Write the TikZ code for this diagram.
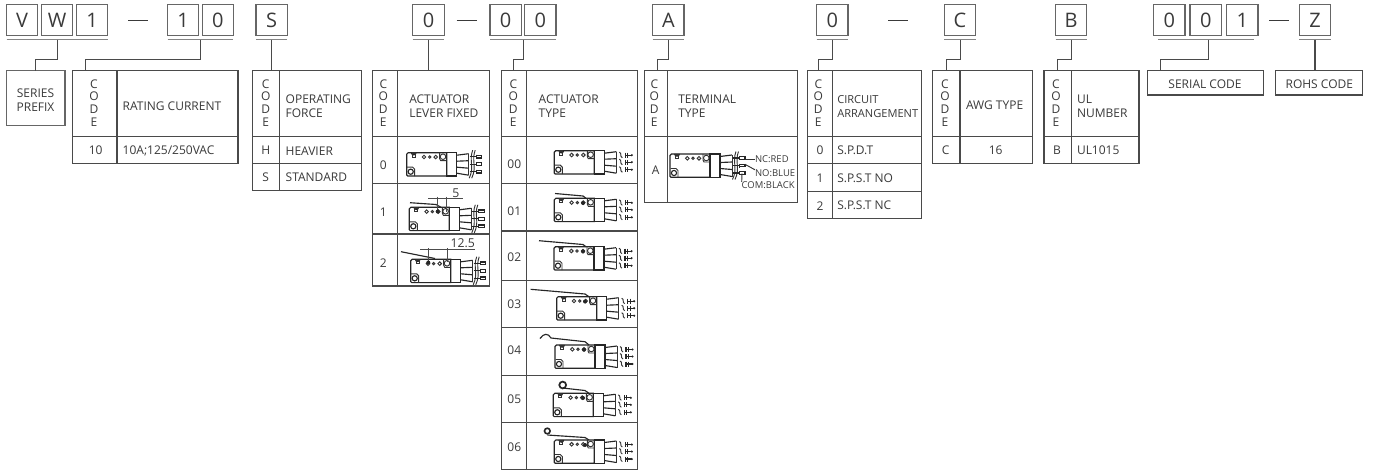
\documentclass[tikz,border=0pt]{standalone}
\usepackage{fontspec}
\setmainfont{Open Sans}
\definecolor{ink}{HTML}{3A3A3A}
\definecolor{rule}{HTML}{4A4A4A}
\definecolor{boxl}{HTML}{666666}
\newcounter{lb}
\tikzset{
  x=0.75pt,y=-0.75pt,
  lbl/.style={inner sep=0,outer sep=0,text=ink,font=\fontsize{9}{10.5}\selectfont,align=left},
  clbl/.style={lbl,align=center},
  stack/.style={inner sep=0,outer sep=0,text=ink,font=\fontsize{9}{9.55}\selectfont,align=center},
  letterbox/.style={draw=boxl,line width=1pt,inner sep=0,outer sep=0,text=ink,font=\fontsize{15}{17}\selectfont},
  bar/.style={draw=boxl!80,line width=1.1pt},
  conn/.style={draw=rule,line width=0.85pt},
  tablebox/.style={draw=rule,line width=0.85pt,inner sep=0,outer sep=0,anchor=north west},
  grid/.style={draw=rule,line width=0.85pt},
  swt/.style={draw=black!85,line width=0.85pt},
  sw/.style={draw=black!80,line width=0.7pt},
  dim/.style={draw=black!70,line width=0.45pt},
  smalllbl/.style={lbl,anchor=west,font=\fontsize{7.1}{9}\selectfont},
}
% letter box: name, x1, x2, character
\newcommand\lbox[4]{\node[letterbox,minimum width={(#3-#2)*0.75pt},minimum height={31*0.75pt}] (#1) at ({(#2+#3)/2},20) {#4};}
% table: name, x1, divider, x2, y-bottom, row rules
\newcommand\tabl[6]{%
  \node[tablebox,minimum width={(#4-#2)*0.75pt},minimum height={(#5-70.5)*0.75pt}] (#1) at (#2,70.5) {};
  \draw[grid] (#3,70.5) -- (#3,#5);
  \foreach \yy in {#6}{\draw[grid] (#2,\yy) -- (#4,\yy);}
}
\newcommand\code[1]{\stepcounter{lb}\node[stack] (cd\thelb) at (#1,103) {C\\O\\D\\E};}
\newcommand\lab[3]{\stepcounter{lb}\node[lbl,anchor=west] (lb\thelb) at (#1,#2) {#3};}
\newcommand\clab[3]{\stepcounter{lb}\node[clbl,anchor=center] (lb\thelb) at (#1,#2) {#3};}
% switch body in local pixel coordinates
\newcommand\swbody{%
  \draw[swt,fill=white] (1.5,0) -- (40,0) -- (40,23.3) -- (1,23.3) -- (0,22.3) -- (0,1.5) -- cycle;
  \draw[swt,line width=1pt] (40,0) rectangle (50,23.3);
  \fill[black!85] (4,-0.2) arc[start angle=180,end angle=0,radius=3] -- cycle;
  \draw[sw] (5.5,0) rectangle (8.5,4.5);
  \draw[sw] (5,1.2) -- (9,1.2);
  \foreach \hx in {17.3,29}{\draw[sw] (\hx,4.3) circle[radius=1.8];}
  \draw[sw] (23,4.3) circle[radius=1.2];
  \draw[sw] (33,0) -- (33,6) -- (34,8) -- (40,8);
  \draw[sw] (36.3,4) circle[radius=2.8];
  \draw[sw] (0.5,14.5) -- (6,14.5) -- (8,16.5) -- (8,23.3);
  \draw[swt] (4,19) circle[radius=2.6];
}
\newcommand\fan{%
  \draw[swt] (50,2.5) -- (62,1) (50,8.5) -- (62,8) (50,14.5) -- (62,15.5) (50,20.5) -- (62,22.5);
  \draw[sw] (62,1) -- (62,8) (62,15.5) -- (62,22.5) (62,8) -- (62,15.5);
}
\newcommand\pinsA{% loose wires, bent terminals
  \fan
  \foreach \py in {4.5,11.5,19}{
    \draw[sw] (65,\py-3) .. controls (68,\py-2) and (65,\py+1) .. (68,\py+2.5);
    \draw[swt] (71,\py-2.5) -- (71,\py+2.5);
    \draw[swt] (73.5,\py-2.5) -- (73.5,\py+2.5);
    \draw[swt] (71,\py) -- (77.5,\py);
    \fill[black!85] (77.5,\py) circle[radius=1.2];
  }
}
\newcommand\pinsB{% broken wires with straight pins
  \fan
  \draw[sw] (66,-2.5) .. controls (62,8) and (68,14) .. (62.5,25.5);
  \draw[sw] (68.5,-2.5) .. controls (64.5,8) and (70.5,14) .. (65,25.5);
  \foreach \py in {4,11.5,19}{
    \draw[swt] (63,\py) -- (69.5,\py);
    \draw[swt] (69.5,\py-2) -- (69.5,\py+2);
    \draw[swt] (69.5,\py-1.3) rectangle (75,\py+1.3);
  }
}
\newcommand\swA[2]{\begin{scope}[shift={(#1,#2)}]\swbody\pinsA\end{scope}}
\newcommand\swB[2]{\begin{scope}[shift={(#1,#2)}]\swbody\pinsB\end{scope}}
\begin{document}
\begin{tikzpicture}
\useasboundingbox (0,0) rectangle (1374,472);
\fill[white] (0,0) rectangle (1374,472);
% letter boxes
\lbox{kV}{6.7}{37.5}{V}\lbox{kW}{41.7}{72.7}{W}\lbox{kOne}{76.5}{107.7}{1}
\lbox{kTa}{167.7}{198.5}{1}\lbox{kTb}{202.3}{233.3}{0}
\lbox{kS}{256}{287.3}{S}
\lbox{kL}{412.7}{444.3}{0}
\lbox{kAa}{490}{521.3}{0}\lbox{kAb}{524.7}{556}{0}
\lbox{kT}{652.7}{684}{A}
\lbox{kC}{816.7}{848}{0}
\lbox{kG}{944.3}{975.7}{C}
\lbox{kB}{1055.7}{1086.7}{B}
\lbox{kNa}{1153.7}{1185}{0}\lbox{kNb}{1190}{1221.7}{0}\lbox{kNc}{1226.7}{1258}{1}
\lbox{kZ}{1299.3}{1330.7}{Z}
% dashes
\foreach \dx in {128,456.7,888.3,1269.3}{\draw[draw=ink,line width=0.7pt] (\dx,20) -- (\dx+20,20);}
% under bars
\draw[bar] ([yshift=-3pt]kV.south west) -- ([yshift=-3pt]kOne.south east);
\draw[bar] ([yshift=-3pt]kTa.south west) -- ([yshift=-3pt]kTb.south east);
\draw[bar] ([yshift=-3pt]kS.south west) -- ([yshift=-3pt]kS.south east);
\draw[bar] ([yshift=-3pt]kL.south west) -- ([yshift=-3pt]kL.south east);
\draw[bar] ([yshift=-3pt]kAa.south west) -- ([yshift=-3pt]kAb.south east);
\draw[bar] ([yshift=-3pt]kT.south west) -- ([yshift=-3pt]kT.south east);
\draw[bar] ([yshift=-3pt]kC.south west) -- ([yshift=-3pt]kC.south east);
\draw[bar] ([yshift=-3pt]kG.south west) -- ([yshift=-3pt]kG.south east);
\draw[bar] ([yshift=-3pt]kB.south west) -- ([yshift=-3pt]kB.south east);
\draw[bar] ([yshift=-3pt,xshift=3.5pt]kNa.south west) -- ([yshift=-3pt,xshift=-3pt]kNc.south east);
\draw[bar] ([yshift=-3pt]kZ.south west) -- ([yshift=-3pt]kZ.south east);
% tables
\node[tablebox,draw=boxl,minimum width={58.3*0.75pt},minimum height={54.8*0.75pt}] (tSeries) at (6.7,70.5) {};
\clab{35.5}{99.7}{SERIES\\PREFIX}
\tabl{tRate}{72.7}{117}{238}{163.7}{136.7}
\code{94}
\lab{122.7}{106.7}{RATING CURRENT}
\clab{95.7}{150.7}{10}
\lab{122.7}{150.7}{10A;125/250VAC}
\tabl{tForce}{252.3}{279.3}{361.7}{190.7}{136.7,163.7}
\code{265.7}
\lab{285.7}{106.3}{OPERATING\\FORCE}
\clab{265.7}{150.7}{H}\lab{285.7}{150.7}{HEAVIER}
\clab{265.7}{177.7}{S}\lab{285.7}{177.7}{STANDARD}
\tabl{tLever}{372.7}{397.7}{489.3}{286}{136.7,183.7,234}
\code{383.3}
\lab{409.3}{106.3}{ACTUATOR\\LEVER FIXED}
\clab{383.3}{165}{0}\clab{383.3}{212}{1}\clab{383.3}{262.7}{2}
\tabl{tType}{501.7}{526.3}{637.3}{469.3}{136.7,183.3,231,280.7,327.7,375.7,422.3}
\code{513.3}
\lab{538.7}{106.3}{ACTUATOR\\TYPE}
\clab{514.3}{164.3}{00}\clab{514.3}{211.7}{01}\clab{514.3}{257.3}{02}\clab{514.3}{304.3}{03}\clab{514.3}{350}{04}\clab{514.3}{399.3}{05}\clab{514.3}{446.7}{06}
\tabl{tTerm}{644.7}{667.3}{797.3}{202.3}{136.7}
\code{654.3}
\lab{678.3}{106.3}{TERMINAL\\TYPE}
\clab{655.7}{170}{A}
\tabl{tCirc}{807.7}{832.3}{921.3}{218.3}{136.7,163.7,191.3}
\code{818.3}
\stepcounter{lb}\node[lbl,anchor=west,font=\fontsize{8.3}{10.5}\selectfont] (lb\thelb) at (837.3,106.3) {CIRCUIT\\ARRANGEMENT};
\clab{820}{150.7}{0}\lab{837.3}{150.7}{S.P.D.T}
\clab{820}{178.7}{1}\lab{837.3}{178.7}{S.P.S.T NO}
\clab{820}{205.7}{2}\lab{837.3}{205.7}{S.P.S.T NC}
\tabl{tAwg}{932.7}{960}{1032.3}{163.7}{136.7}
\code{945}
\lab{966}{105.7}{AWG TYPE}
\clab{945.7}{150.7}{C}\clab{995.7}{150.7}{16}
\tabl{tUl}{1044}{1071.3}{1139}{163.7}{136.7}
\code{1056}
\lab{1077}{106.3}{UL\\NUMBER}
\clab{1057}{150.7}{B}\lab{1077}{150.7}{UL1015}
\node[tablebox,minimum width={116*0.75pt},minimum height={24.5*0.75pt}] (tSer) at (1147.3,70.5) {};
\clab{1205}{84.7}{SERIAL CODE}
\node[tablebox,minimum width={87*0.75pt},minimum height={24.5*0.75pt}] (tRohs) at (1275.7,70.5) {};
\clab{1319.3}{84.7}{ROHS CODE}
% connectors
\coordinate (oW) at (57.7,39.5);   \coordinate (iSeries) at (35.7,70.5);
\coordinate (oT) at (200.3,39.5);  \coordinate (iRate) at (85.7,70.5);
\coordinate (oS) at (271.7,39.5);  \coordinate (iForce) at (271.7,70.5);
\coordinate (oL) at (428.3,39.5);  \coordinate (iLever) at (428.3,70.5);
\coordinate (oA) at (523.3,39.5);  \coordinate (iType) at (513.3,70.5);
\coordinate (oTm) at (668.3,39.5); \coordinate (iTerm) at (657.7,70.5);
\coordinate (oC) at (832.3,39.5);  \coordinate (iCirc) at (818.3,70.5);
\coordinate (oG) at (960.3,39.5);  \coordinate (iAwg) at (946.3,70.5);
\coordinate (oB) at (1071.3,39.5); \coordinate (iUl) at (1057.3,70.5);
\coordinate (oN) at (1208.7,39.5); \coordinate (iSer) at (1160.7,70.5);
\coordinate (oZ) at (1315,39.5);   \coordinate (iRohs) at (1315,70.5);
\draw[conn] (oW) -- ++(0,20) -| (iSeries);
\draw[conn] (oT) -- ++(0,20) -| (iRate);
\draw[conn] (oS) -- (iForce);
\draw[conn] (oL) -- (iLever);
\draw[conn] (oA) -- ++(0,20) -| (iType);
\draw[conn] (oTm) -- ++(0,20) -| (iTerm);
\draw[conn] (oC) -- ++(0,20) -| (iCirc);
\draw[conn] (oG) -- ++(0,20) -| (iAwg);
\draw[conn] (oB) -- ++(0,20) -| (iUl);
\draw[conn] (oN) -- ++(0,20) -| (iSer);
\draw[conn] (oZ) -- (iRohs);
% switches: lever fixed column
\swB{406.7}{152.7}
\swB{409.3}{207.3}
\draw[swt] (410,202.7) -- (436,204.5) -- (441,207.3);
\draw[dim] (437.7,196.7) -- (437.7,212) (446,196.7) -- (446,212) (428.3,198.3) -- (463.3,198.3);
\fill[black!85] (437.7,211.5) circle[radius=2];
\stepcounter{lb}\node[lbl,font=\fontsize{9.2}{10}\selectfont] (lb\thelb) at (456,192.8) {5};
\swB{410.7}{259.3}
\draw[swt] (401,251.7) -- (435,258.5);
\draw[dim] (428.3,248.3) -- (428.3,263) (447.3,248.3) -- (447.3,262) (420,249.3) -- (475,249.3);
\fill[black!85] (428.3,262.5) circle[radius=2];
\stepcounter{lb}\node[lbl,font=\fontsize{9.2}{10}\selectfont] (lb\thelb) at (462.7,243) {12.5};
% switches: actuator type column
\swA{554.3}{150.7}
\swA{554.3}{198.3}
\draw[swt] (555,193.5) -- (583,196) -- (586,198.3);
\fill[black!85] (583,203) circle[radius=2];
\swA{554}{246.7}
\draw[swt] (539,240.7) -- (583,244.5) -- (586,246.7);
\fill[black!85] (583,251.5) circle[radius=2];
\swA{556.7}{296.7}
\draw[swt] (530.7,289.3) -- (585,294) -- (589,296.7);
\fill[black!85] (585,301.5) circle[radius=2];
\swA{555}{345}
\draw[swt] (540,338.5) .. controls (544,333) and (548,333) .. (551,338) -- (585,341.7) -- (589,345);
\fill[black!85] (584,349.7) circle[radius=2];
\swA{553.3}{393.3}
\draw[swt] (562.7,388) -- (585,390.5) -- (589,393.3);
\draw[swt,line width=1.3pt,fill=white] (562.7,385) circle[radius=3.4];
\fill[black!85] (583,398) circle[radius=2];
\swA{554.3}{440}
\draw[swt] (547.3,435) -- (585,437.5) -- (589,440);
\draw[swt,line width=1.2pt,fill=white] (547.3,431) circle[radius=2.8];
\fill[black!85] (585,445) circle[radius=2];
% terminal type
\swB{670}{154}
\coordinate (pNC) at (745,159.3);
\coordinate (pNO) at (745,164.3);
\coordinate (pCOM) at (742,173.3);
\node[smalllbl] (lNC) at (755,159.3) {NC:RED};
\node[smalllbl] (lNO) at (755,173.3) {NO:BLUE};
\node[smalllbl] (lCOM) at (741.7,185.3) {COM:BLACK};
\draw[sw] (pNC) -- (lNC.west);
\draw[sw] (pNO) -- (lNO.north west);
\draw[sw] (pCOM) -- (lCOM.north west);
\end{tikzpicture}
\end{document}
